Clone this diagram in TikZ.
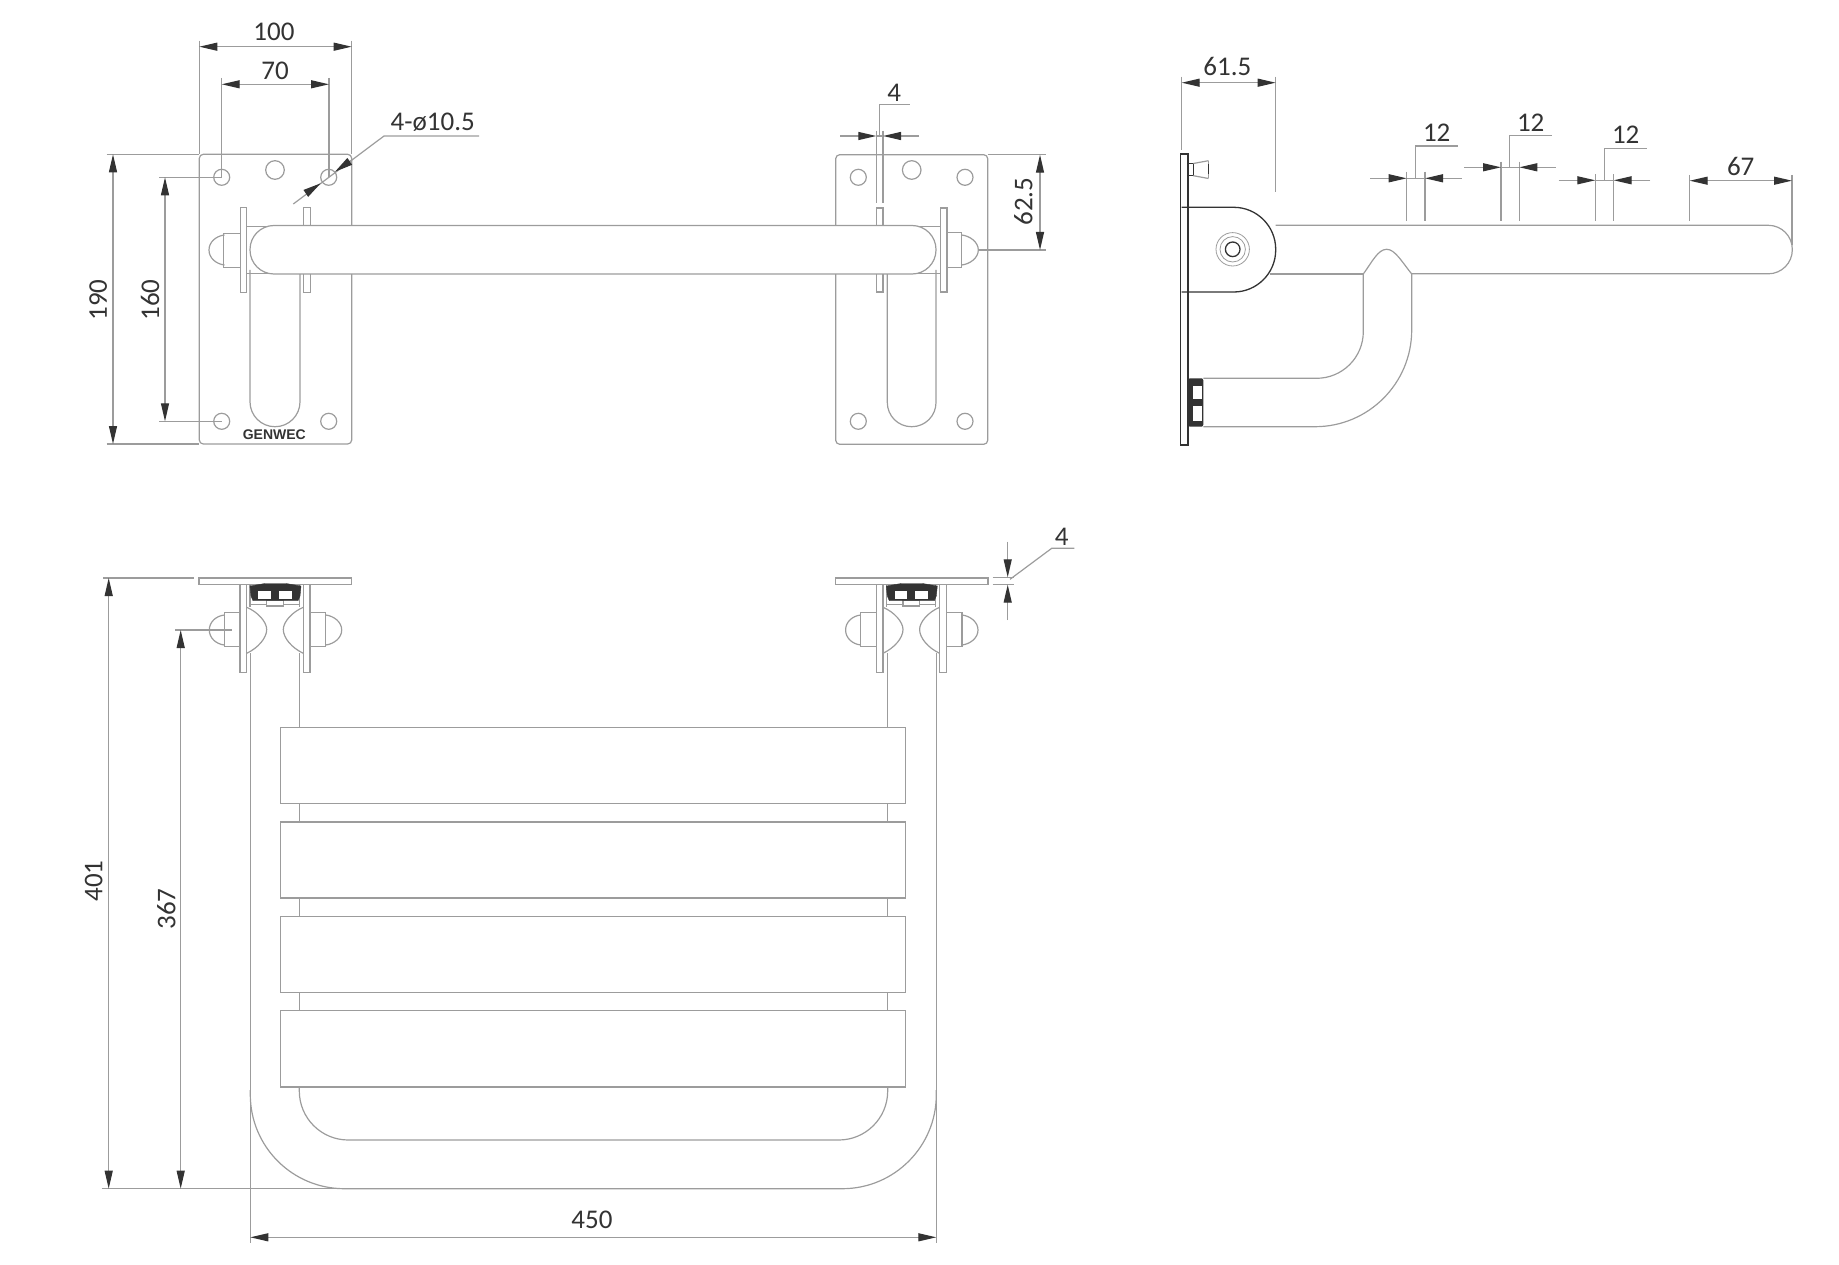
\documentclass[tikz,border=0pt]{standalone}
\usepackage{fontspec}
\setmainfont{Carlito}
\newfontfamily\logofont{Liberation Sans}
\usetikzlibrary{arrows.meta}
\definecolor{linegray}{HTML}{9C9C9C}
\definecolor{inkdark}{HTML}{333333}
\tikzset{
  part/.style={draw=linegray,line width=1.2pt},
  heavy/.style={draw=inkdark,line width=1.3pt},
  dim/.style={draw=linegray,line width=1.2pt},
  tipdim/.tip={Triangle[length=18pt,width=8pt,color=inkdark,fill=inkdark]},
  dimtext/.style={text=inkdark,inner sep=0pt,font=\fontsize{27}{27}\selectfont},
}
% one wall mount seen from above
\newcommand{\mountview}{
  \draw[part,fill=white] (199,578) rectangle (351.7,584.7);
  \draw[part,fill=white] (240,584.7) rectangle (246.7,672.3);
  \draw[part,fill=white] (303.3,584.7) rectangle (310,672.3);
  \draw[part] (250,584.7) -- (250,607);
  \draw[part] (299.3,584.7) -- (299.3,607);
  \draw[part] (250,604.3) -- (299.3,604.3);
  \draw[part,fill=white] (266.7,600.7) rectangle (283.3,606);
  \draw[fill=inkdark,draw=inkdark] (250,586) -- (265,583.5) -- (286,583.5) -- (301,586) -- (300,596) -- (298,600.7) -- (253,600.7) -- (251,596) -- cycle;
  \fill[white] (258.3,590.7) rectangle (271,598.7);
  \fill[white] (279,590.7) rectangle (291.7,598.7);
  \draw[part] (246.7,607.3) .. controls (258,612) and (266.7,622) .. (266.7,629.5) .. controls (266.7,638) and (258,648) .. (246.7,653.3);
  \draw[part] (303.3,607.3) .. controls (292,612) and (283.3,622) .. (283.3,629.5) .. controls (283.3,638) and (292,648) .. (303.3,653.3);
  \draw[part] (240,612.7) -- (224.3,612.7) -- (224.3,646.7) -- (240,646.7);
  \draw[part] (224.3,615) .. controls (216,616) and (209.3,622) .. (209.3,630) .. controls (209.3,638) and (216,644) .. (224.3,645);
  \draw[part] (310,612.7) -- (325.7,612.7) -- (325.7,646.7) -- (310,646.7);
  \draw[part] (325.7,615) .. controls (334,616) and (341.7,622) .. (341.7,630) .. controls (341.7,638) and (334,644) .. (325.7,645);
}
\begin{document}
\begin{tikzpicture}[x=1pt,y=-1pt]
  \useasboundingbox (0,0) rectangle (1839,1265);

  % front view, left plate
  \draw[part,rounded corners=4pt] (199.3,154.3) rectangle (351.7,444);
  \draw[part] (221.7,177.3) circle (8pt);
  \draw[part] (275,170) circle (9.3pt);
  \draw[part] (328.7,177.3) circle (8pt);
  \draw[part] (221.7,421.3) circle (8pt);
  \draw[part] (328.7,421.3) circle (8pt);
  \draw[part,rounded corners=24.9pt] (250,270) -- (250,426.7) -- (300,426.7) -- (300,270);
  \draw[part,fill=white] (240.3,207.7) rectangle (246.3,292.7);
  \draw[part,fill=white] (303.7,207.7) rectangle (310.3,292.7);
  \draw[part] (240.3,233.3) -- (223.3,233.3) -- (223.3,267.3) -- (240.3,267.3);
  \draw[part] (224.5,235) .. controls (216,236) and (209,242) .. (209,250) .. controls (209,258) and (216,264) .. (224.5,265);
  \draw[part] (246.3,226.5) -- (270,226.5);
  \draw[part] (246.3,273.5) -- (270,273.5);

  % front view, right plate
  \draw[part,rounded corners=4pt] (835.7,154.7) rectangle (987.7,444.3);
  \draw[part] (858.3,177.3) circle (8pt);
  \draw[part] (911.7,170) circle (9.3pt);
  \draw[part] (965,177.3) circle (8pt);
  \draw[part] (858.3,421.3) circle (8pt);
  \draw[part] (965,421.3) circle (8pt);
  \draw[part,rounded corners=24.2pt] (887.3,270) -- (887.3,426.7) -- (936,426.7) -- (936,270);
  \draw[part,fill=white] (940.3,208) rectangle (947,292);
  \draw[part,fill=white] (876.3,208) rectangle (883,292);
  \draw[part] (947,232.7) -- (961.7,232.7) -- (961.7,267.3) -- (947,267.3);
  \draw[part] (961.7,235) .. controls (970,236) and (978.3,242) .. (978.3,250) .. controls (978.3,258) and (970,264) .. (961.7,265);
  \draw[part] (940.3,226.5) -- (915,226.5);
  \draw[part] (940.3,273.5) -- (915,273.5);

  % the long bar runs over both plates
  \draw[part,fill=white,rounded corners=24pt] (250,225.5) rectangle (936,274);
  \node[inner sep=0pt,text=inkdark,font=\logofont\bfseries\fontsize{14}{14}\selectfont] (logo) at (274.3,435) {GENWEC};

  % dimensions of the front view
  \draw[dim] (199.3,40.7) -- (199.3,154.3);
  \draw[dim] (351.7,40.7) -- (351.7,154.3);
  \draw[dim,tipdim-tipdim] (199.3,46.7) -- (351.7,46.7);
  \node[dimtext] (wplate) at (274,32) {100};
  \draw[dim] (221.7,78) -- (221.7,177.3);
  \draw[dim] (329,78) -- (329,177.3);
  \draw[dim,tipdim-tipdim] (221.7,84.3) -- (329,84.3);
  \node[dimtext] (wholes) at (275,70.7) {70};
  \draw[dim] (106.7,154.3) -- (199.3,154.3);
  \draw[dim] (106.7,444) -- (199.3,444);
  \draw[dim,tipdim-tipdim] (113,154.3) -- (113,444);
  \node[dimtext,rotate=90] (hplate) at (98.3,300) {190};
  \draw[dim] (159,177.3) -- (221.7,177.3);
  \draw[dim] (159,421.3) -- (221.7,421.3);
  \draw[dim,tipdim-tipdim] (165,177.3) -- (165,421.3);
  \node[dimtext,rotate=90] (hholes) at (150,300) {160};
  \draw[dim] (293.3,204) -- (384,136) -- (479,136);
  \draw[dim,-tipdim] (351.7,160) -- (335,171.7);
  \draw[dim,-tipdim] (306,193.3) -- (320.7,183.3);
  \node[dimtext] (holes) at (432.7,122.5) {4-ø10.5};
  \draw[dim] (876.3,130.7) -- (876.3,203.3);
  \draw[dim] (883,130.7) -- (883,203.3);
  \draw[dim,-tipdim] (840,136) -- (876.3,136);
  \draw[dim,-tipdim] (919,136) -- (883,136);
  \draw[dim] (876.3,136) -- (883,136);
  \draw[dim] (879.3,136) -- (879.3,104.7) -- (910,104.7);
  \node[dimtext] (flange) at (894.3,93.3) {4};
  \draw[dim] (987.7,154.7) -- (1045.7,154.7);
  \draw[dim] (978.3,250) -- (1045.7,250);
  \draw[dim,tipdim-tipdim] (1040,154.7) -- (1040,250);
  \node[dimtext,rotate=90] (axis) at (1023.3,201.7) {62.5};

  % side view
  \draw[heavy] (1180.7,154) rectangle (1188,445);
  \draw[heavy] (1188,163.5) -- (1193.3,163.5) -- (1193.3,175.7) -- (1188,175.7);
  \draw[part] (1193.3,163.5) -- (1208.5,160.7);
  \draw[part] (1193.3,175.7) -- (1208.5,178.5);
  \draw[part] (1208.5,160.7) -- (1208.5,178.5);
  \draw[heavy] (1208.5,164) -- (1208.5,174.5);
  \draw[heavy,rounded corners=42pt] (1181.7,207.3) -- (1275.7,207.3) -- (1275.7,292) -- (1181.7,292);
  \draw[heavy] (1232.7,249.3) circle (7.3pt);
  \draw[part,line width=.8pt] (1232.7,249.3) circle (12.7pt);
  \draw[part,line width=.8pt] (1232.7,249.3) circle (16.7pt);
  \draw[part,rounded corners=24pt] (1275.7,225.3) -- (1792.3,225.3) -- (1792.3,273.8) -- (1411.7,273.8);
  \draw[part] (1270,274) -- (1363.3,274);
  \draw[part] (1363.3,274) .. controls (1372,262) and (1378,249.3) .. (1386.7,249.3) .. controls (1395,249.3) and (1402,262) .. (1411.7,274);
  \draw[part,rounded corners=46.7pt] (1363.3,274) -- (1363.3,378.3) -- (1203.3,378.3);
  \draw[part,rounded corners=96.7pt] (1411.7,274) -- (1411.7,426.7) -- (1203.3,426.7);
  \fill[inkdark,rounded corners=2pt] (1188,378.3) rectangle (1203.3,426.7);
  \fill[white] (1192.7,386) rectangle (1202.3,399.3);
  \fill[white] (1192.7,406) rectangle (1202.3,420.7);

  % dimensions of the side view
  \draw[dim] (1181.7,76.7) -- (1181.7,150);
  \draw[dim] (1275.7,76.7) -- (1275.7,191.7);
  \draw[dim,tipdim-tipdim] (1181.7,82.7) -- (1275.7,82.7);
  \node[dimtext] (reach) at (1227.3,66.7) {61.5};
  \draw[dim] (1406.7,171.7) -- (1406.7,220.7);
  \draw[dim] (1425,171.7) -- (1425,220.7);
  \draw[dim,-tipdim] (1370,178.3) -- (1406.7,178.3);
  \draw[dim,-tipdim] (1461.7,178.3) -- (1425,178.3);
  \draw[dim] (1406.7,178.3) -- (1425,178.3);
  \draw[dim] (1415.7,178.3) -- (1415.7,146) -- (1457.7,146);
  \node[dimtext] (slota) at (1436.7,132.7) {12};
  \draw[dim] (1501,161.7) -- (1501,221);
  \draw[dim] (1519.3,161.7) -- (1519.3,221);
  \draw[dim,-tipdim] (1464.3,167.3) -- (1501,167.3);
  \draw[dim,-tipdim] (1555.7,167.3) -- (1519.3,167.3);
  \draw[dim] (1501,167.3) -- (1519.3,167.3);
  \draw[dim] (1509.3,167.3) -- (1509.3,135.7) -- (1552.3,135.7);
  \node[dimtext] (slotb) at (1530.7,122.3) {12};
  \draw[dim] (1595.3,174.3) -- (1595.3,221);
  \draw[dim] (1613.7,174.3) -- (1613.7,221);
  \draw[dim,-tipdim] (1558.7,180.3) -- (1595.3,180.3);
  \draw[dim,-tipdim] (1650.3,180.3) -- (1613.7,180.3);
  \draw[dim] (1595.3,180.3) -- (1613.7,180.3);
  \draw[dim] (1604.7,180.3) -- (1604.7,148.3) -- (1647,148.3);
  \node[dimtext] (slotc) at (1625.7,134.3) {12};
  \draw[dim] (1689.7,175) -- (1689.7,221);
  \draw[dim] (1792,175) -- (1792,245);
  \draw[dim,tipdim-tipdim] (1689.7,180.7) -- (1792,180.7);
  \node[dimtext] (tip) at (1740.7,166) {67};

  % top view
  \mountview
  \begin{scope}[xshift=636.3pt]
    \mountview
  \end{scope}
  \draw[part] (299.3,653.3) -- (299.3,1090);
  \draw[part] (887.7,653.3) -- (887.7,1090);
  \draw[part,rounded corners=49pt] (299.3,1086) -- (299.3,1140) -- (887.7,1140) -- (887.7,1086);
  \draw[part,rounded corners=94pt] (250.3,1090) -- (250.3,1188.7) -- (936.3,1188.7) -- (936.3,1090);
  \draw[part,fill=white] (280.7,727.3) rectangle (905.7,803.7);
  \draw[part,fill=white] (280.7,822) rectangle (905.7,898);
  \draw[part,fill=white] (280.7,916.7) rectangle (905.7,992.7);
  \draw[part,fill=white] (280.7,1010.7) rectangle (905.7,1087);

  % dimensions of the top view
  \draw[dim] (250.3,653.3) -- (250.3,1243.3);
  \draw[dim] (936.3,653.3) -- (936.3,1243.3);
  \draw[dim] (103,578) -- (194,578);
  \draw[dim] (101.7,1188.7) -- (345,1188.7);
  \draw[dim] (175,630) -- (231.7,630);
  \draw[dim,tipdim-tipdim] (108.7,578) -- (108.7,1188.7);
  \node[dimtext,rotate=90] (depth) at (93.8,881) {401};
  \draw[dim,tipdim-tipdim] (180.7,630) -- (180.7,1188.7);
  \node[dimtext,rotate=90] (axisdepth) at (166.4,909) {367};
  \draw[dim,tipdim-tipdim] (250.3,1237.3) -- (936.3,1237.3);
  \node[dimtext] (width) at (592,1220) {450};
  \draw[dim] (992.7,577.3) -- (1014,577.3);
  \draw[dim] (992.7,584.7) -- (1014,584.7);
  \draw[dim,-tipdim] (1007.7,541.7) -- (1007.7,577.3);
  \draw[dim,-tipdim] (1007.7,620) -- (1007.7,584.7);
  \draw[dim] (1010,579.3) -- (1051.7,548.3) -- (1074.3,548.3);
  \node[dimtext] (plate) at (1061.7,536.7) {4};
\end{tikzpicture}
\end{document}
